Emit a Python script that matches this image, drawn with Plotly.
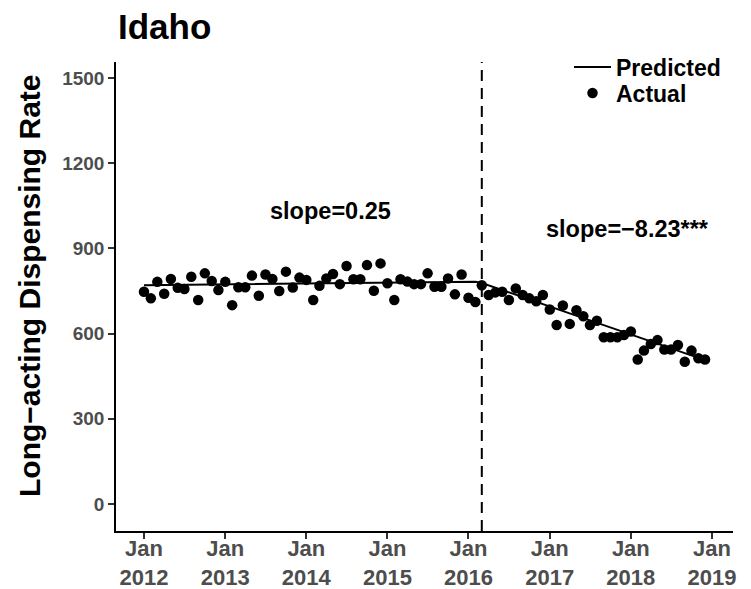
import pandas as pd
import plotly.graph_objects as go

# Monthly long-acting dispensing rate, Idaho, Jan 2012 - Dec 2018
months = pd.date_range("2012-01-01", "2018-12-01", freq="MS")
actual = [
    747, 724, 782, 740, 792, 761, 757, 800, 718, 812, 785, 753,   # 2012
    782, 700, 763, 763, 804, 733, 808, 792, 750, 818, 762, 797,   # 2013
    789, 718, 768, 794, 810, 774, 838, 791, 791, 841, 751, 847,   # 2014
    777, 718, 791, 783, 774, 774, 812, 765, 765, 794, 738, 808,   # 2015
    726, 711, 770, 736, 745, 747, 718, 759, 736, 724, 714, 736,   # 2016
    685, 630, 699, 634, 682, 661, 630, 645, 587, 587, 587, 595,   # 2017
    607, 509, 540, 563, 577, 544, 544, 560, 501, 540, 513, 509,   # 2018
]

# Segmented regression: pre-period up to Feb 2016, post-period from Mar 2016
break_idx = 50
pre_intercept, pre_slope = 770, 0.25
post_intercept, post_slope = 778, -8.23
predicted = [
    pre_intercept + pre_slope * i if i < break_idx
    else post_intercept + post_slope * (i - break_idx)
    for i in range(len(months))
]
break_date = months[break_idx]

tick_dates = pd.date_range("2012-01-01", "2019-01-01", freq="YS")
tick_text = [f"Jan<br>{d.year}" for d in tick_dates]
y_ticks = [0, 300, 600, 900, 1200, 1500]

FONT = "Liberation Sans, Arial, sans-serif"
W, H = 751, 589
L, R, T, B = 116, 18, 62, 58
plot_w, plot_h = W - L - R, H - T - B

fig = go.Figure()
fig.add_trace(go.Scatter(
    x=months, y=predicted, mode="lines", name="Predicted",
    line=dict(color="black", width=2), legend="legend",
))
fig.add_trace(go.Scatter(
    x=months, y=actual, mode="markers", name="Actual",
    marker=dict(color="black", size=10.5), legend="legend2",
))

fig.add_shape(
    type="line", xref="x", yref="paper",
    x0=break_date, x1=break_date, y0=0, y1=1,
    line=dict(color="black", width=2, dash="11px,7px"),
)

ann_font = dict(family=FONT, size=23.5, color="black", weight="bold")
fig.add_annotation(x="2014-04-20", y=1031, text="slope=0.25",
                   showarrow=False, font=ann_font)
fig.add_annotation(x="2017-12-17", y=968, text="slope=\u22128.23***",
                   showarrow=False, font=ann_font)

# y-axis title placed directly so its position is fixed
fig.add_annotation(
    xref="paper", yref="paper", x=(29 - L) / plot_w, y=(H - B - 286) / plot_h,
    text="Long\u2212acting Dispensing Rate", textangle=-90, showarrow=False,
    xanchor="center", yanchor="middle",
    font=dict(family=FONT, size=30, color="black", weight="bold"),
)

legend_common = dict(
    x=(569 - L) / plot_w, xanchor="left", yanchor="middle",
    bgcolor="rgba(0,0,0,0)", itemwidth=37,
    font=dict(family=FONT, size=23, color="black", weight="bold"),
)

fig.update_layout(
    width=W, height=H,
    margin=dict(l=L, r=R, t=T, b=B),
    paper_bgcolor="white", plot_bgcolor="white",
    font=dict(family=FONT),
    title=dict(
        text="Idaho", xref="container", x=118 / W, xanchor="left",
        yref="container", y=1 - 14 / H, yanchor="top",
        font=dict(family=FONT, size=35, color="black", weight="bold"),
    ),
    showlegend=True,
    legend=dict(y=(H - B - 67) / plot_h, **legend_common),
    legend2=dict(y=(H - B - 93) / plot_h, **legend_common),
    xaxis=dict(
        range=["2011-08-28", "2019-04-06"], automargin=False,
        tickvals=tick_dates, ticktext=tick_text,
        showgrid=False, zeroline=False,
        showline=True, linecolor="black", linewidth=1.5,
        ticks="outside", ticklen=6, tickcolor="#333333", tickwidth=1.5,
        ticklabelstandoff=-9,
        tickfont=dict(family=FONT, size=22, color="#4D4D4D", weight="bold"),
    ),
    yaxis=dict(
        range=[-95, 1556], automargin=False,
        tickvals=y_ticks,
        showgrid=False, zeroline=False,
        showline=True, linecolor="black", linewidth=1.5,
        ticks="outside", ticklen=6, tickcolor="#333333", tickwidth=1.5,
        tickfont=dict(family=FONT, size=19, color="#4D4D4D", weight="bold"),
    ),
)

fig.write_html("out.html")
